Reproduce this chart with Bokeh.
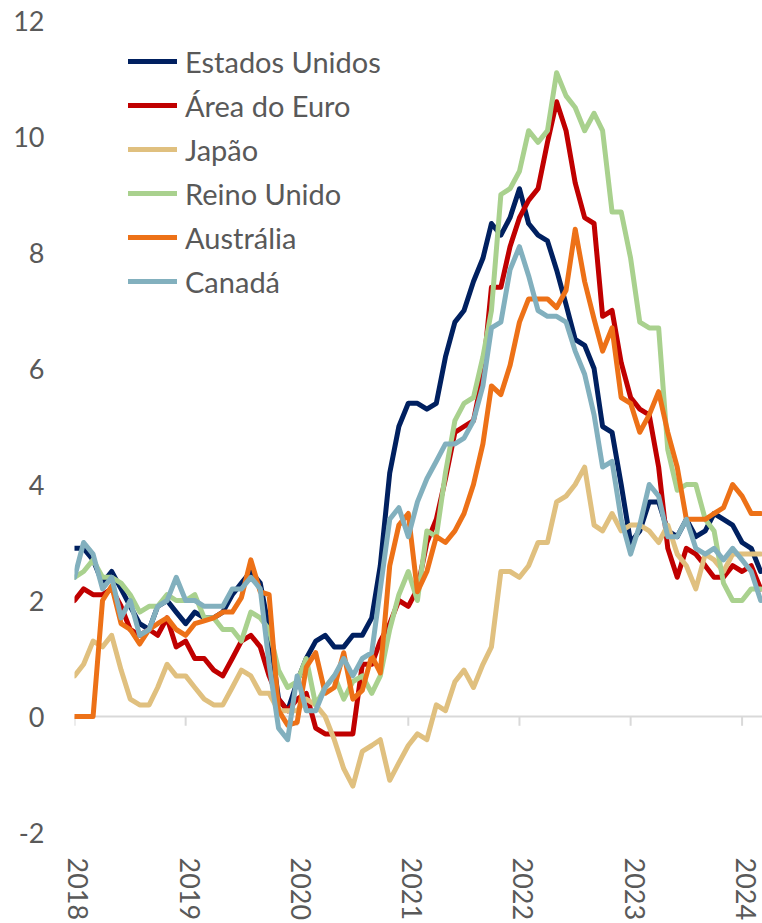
import pandas as pd
from bokeh.plotting import figure
from bokeh.models import Range1d, FixedTicker, Span, DatetimeTickFormatter
from bokeh.embed import file_html
from bokeh.resources import INLINE

# ---------------- data ----------------
start_month = "2018-06"
year_labels = ["2018", "2019", "2020", "2021", "2022", "2023", "2024"]
y_ticks = [-2, 0, 2, 4, 6, 8, 10, 12]
y_tick_labels = ["-2", "0", "2", "4", "6", "8", "10", "12"]

series_names = ["Estados Unidos", "Área do Euro", "Japão", "Reino Unido", "Austrália", "Canadá"]

estados_unidos = [2.9, 2.9, 2.7, 2.3, 2.5, 2.2, 1.9,
                  1.6, 1.5, 1.9, 2.0, 1.8, 1.6, 1.8, 1.7, 1.7, 1.8, 2.1, 2.3,
                  2.5, 2.3, 1.5, 0.3, 0.1, 0.6, 1.0, 1.3, 1.4, 1.2, 1.2, 1.4,
                  1.4, 1.7, 2.6, 4.2, 5.0, 5.4, 5.4, 5.3, 5.4, 6.2, 6.8, 7.0,
                  7.5, 7.9, 8.5, 8.3, 8.6, 9.1, 8.5, 8.3, 8.2, 7.7, 7.1, 6.5,
                  6.4, 6.0, 5.0, 4.9, 4.0, 3.0, 3.2, 3.7, 3.7, 3.2, 3.1, 3.4,
                  3.1, 3.2, 3.5, 3.4, 3.3, 3.0, 2.9, 2.5]

area_euro = [2.0, 2.2, 2.1, 2.1, 2.2, 1.9, 1.5,
             1.4, 1.5, 1.4, 1.7, 1.2, 1.3, 1.0, 1.0, 0.8, 0.7, 1.0, 1.3,
             1.4, 1.2, 0.7, 0.3, 0.1, 0.3, 0.4, -0.2, -0.3, -0.3, -0.3, -0.3,
             0.9, 0.9, 1.3, 1.6, 2.0, 1.9, 2.2, 3.0, 3.4, 4.1, 4.9, 5.0,
             5.1, 5.9, 7.4, 7.4, 8.1, 8.6, 8.9, 9.1, 9.9, 10.6, 10.1, 9.2,
             8.6, 8.5, 6.9, 7.0, 6.1, 5.5, 5.3, 5.2, 4.3, 2.9, 2.4, 2.9,
             2.8, 2.6, 2.4, 2.4, 2.6, 2.5, 2.6, 2.2]

japao = [0.7, 0.9, 1.3, 1.2, 1.4, 0.8, 0.3,
         0.2, 0.2, 0.5, 0.9, 0.7, 0.7, 0.5, 0.3, 0.2, 0.2, 0.5, 0.8,
         0.7, 0.4, 0.4, 0.1, 0.1, 0.1, 0.3, 0.2, 0.0, -0.4, -0.9, -1.2,
         -0.6, -0.5, -0.4, -1.1, -0.8, -0.5, -0.3, -0.4, 0.2, 0.1, 0.6, 0.8,
         0.5, 0.9, 1.2, 2.5, 2.5, 2.4, 2.6, 3.0, 3.0, 3.7, 3.8, 4.0,
         4.3, 3.3, 3.2, 3.5, 3.2, 3.3, 3.3, 3.2, 3.0, 3.3, 2.8, 2.6,
         2.2, 2.8, 2.7, 2.5, 2.8, 2.8, 2.8, 2.8]

reino_unido = [2.4, 2.5, 2.7, 2.4, 2.4, 2.3, 2.1,
               1.8, 1.9, 1.9, 2.1, 2.0, 2.0, 2.1, 1.7, 1.7, 1.5, 1.5, 1.3,
               1.8, 1.7, 1.5, 0.8, 0.5, 0.6, 1.0, 0.2, 0.5, 0.7, 0.3, 0.6,
               0.7, 0.4, 0.7, 1.5, 2.1, 2.5, 2.0, 3.2, 3.1, 4.2, 5.1, 5.4,
               5.5, 6.2, 7.0, 9.0, 9.1, 9.4, 10.1, 9.9, 10.1, 11.1, 10.7, 10.5,
               10.1, 10.4, 10.1, 8.7, 8.7, 7.9, 6.8, 6.7, 6.7, 4.6, 3.9, 4.0,
               4.0, 3.4, 3.2, 2.3, 2.0, 2.0, 2.2, 2.2]

australia = [0.0, 0.0, 0.0, 2.0, 2.25, 1.6, 1.5,
             1.25, 1.5, 1.6, 1.7, 1.5, 1.4, 1.6, 1.65, 1.7, 1.8, 1.8, 2.05,
             2.7, 2.15, 2.1, 0.1, -0.15, -0.1, 0.85, 1.1, 0.4, 0.5, 1.1, 0.3,
             0.45, 1.05, 0.75, 2.6, 3.3, 3.5, 2.15, 2.5, 3.1, 3.0, 3.2, 3.5,
             4.0, 4.7, 5.7, 5.55, 6.05, 6.8, 7.2, 7.2, 7.2, 7.05, 7.35, 8.4,
             7.5, 6.85, 6.3, 6.7, 5.5, 5.4, 4.9, 5.2, 5.6, 4.9, 4.3, 3.4,
             3.4, 3.4, 3.5, 3.6, 4.0, 3.8, 3.5, 3.5]

canada = [2.4, 3.0, 2.8, 2.2, 2.4, 1.7, 2.0,
          1.4, 1.5, 1.9, 2.0, 2.4, 2.0, 2.0, 1.9, 1.9, 1.9, 2.2, 2.2,
          2.4, 2.2, 0.9, -0.2, -0.4, 0.7, 0.1, 0.1, 0.5, 0.7, 1.0, 0.7,
          1.0, 1.1, 2.2, 3.4, 3.6, 3.1, 3.7, 4.1, 4.4, 4.7, 4.7, 4.8,
          5.1, 5.7, 6.7, 6.8, 7.7, 8.1, 7.6, 7.0, 6.9, 6.9, 6.8, 6.3,
          5.9, 5.2, 4.3, 4.4, 3.4, 2.8, 3.3, 4.0, 3.8, 3.1, 3.1, 3.4,
          2.9, 2.8, 2.9, 2.7, 2.9, 2.7, 2.5, 2.0]

series_values = [estados_unidos, area_euro, japao, reino_unido, australia, canada]
series_colors = ["#002060", "#C00000", "#E0C07F", "#A9D18E", "#ED7117", "#82B0BE"]

# ---------------- styling ----------------
FONT = "Lato"
TEXT_COLOR = "#595959"
AXIS_COLOR = "#D9D9D9"
RIGHT_PAD = pd.Timedelta(days=6)        # small space after last point
LABEL_SHIFT = pd.Timedelta(days=13)     # rotated year labels sit a little right of their tick

dates = pd.date_range(start_month, periods=len(estados_unidos), freq="MS")
tick_dates = dates[::12]
label_ms = [float((d + LABEL_SHIFT).value) / 1e6 for d in tick_dates]

p = figure(width=762, height=923,
           x_axis_type="datetime",
           x_range=Range1d(dates[0], dates[-1] + RIGHT_PAD),
           y_range=Range1d(-2, 12),
           output_backend="svg", toolbar_location=None,
           min_border_left=74, min_border_right=0, min_border_top=20,
           min_border_bottom=10)
p.outline_line_color = None
p.grid.visible = False
p.background_fill_color = "white"
p.border_fill_color = "white"

# zero line with year tick marks (category axis crossing at 0)
p.add_layout(Span(location=0, dimension="width", line_color=AXIS_COLOR,
                  line_width=2, level="underlay"))
tick_len = 0.16
p.segment(x0=list(tick_dates), y0=[0] * len(tick_dates),
          x1=list(tick_dates), y1=[-tick_len] * len(tick_dates),
          line_color=AXIS_COLOR, line_width=2, level="underlay")

for name, vals, col in zip(series_names, series_values, series_colors):
    p.line(list(dates), vals, line_color=col, line_width=5,
           line_join="round", line_cap="round", legend_label=name)

# x axis (year labels only, at bottom)
xa = p.xaxis[0]
xa.ticker = FixedTicker(ticks=label_ms)
xa.formatter = DatetimeTickFormatter(days="%Y", months="%Y", years="%Y")
xa.major_label_overrides = {t: lab for t, lab in zip(label_ms, year_labels)}
xa.major_label_orientation = "vertical"
xa.axis_line_color = None
xa.major_tick_line_color = None
xa.minor_tick_line_color = None
xa.major_tick_out = 0
xa.major_tick_in = 0
xa.major_label_standoff = 25
xa.major_label_text_font = FONT
xa.major_label_text_font_size = "27px"
xa.major_label_text_color = TEXT_COLOR

# y axis
ya = p.yaxis[0]
ya.ticker = FixedTicker(ticks=y_ticks)
ya.major_label_overrides = {t: lab for t, lab in zip(y_ticks, y_tick_labels)}
ya.axis_line_color = None
ya.major_tick_line_color = None
ya.minor_tick_line_color = None
ya.major_tick_out = 0
ya.major_tick_in = 0
ya.major_label_standoff = 30
ya.major_label_text_font = FONT
ya.major_label_text_font_size = "27px"
ya.major_label_text_color = TEXT_COLOR

# legend
lg = p.legend[0]
lg.location = (54, 533)
lg.border_line_color = None
lg.background_fill_alpha = 0
lg.padding = 0
lg.margin = 0
lg.spacing = 8
lg.glyph_width = 49
lg.glyph_height = 36
lg.label_height = 36
lg.label_standoff = 8
lg.label_text_font = FONT
lg.label_text_font_size = "29px"
lg.label_text_color = TEXT_COLOR

open("out.html", "w").write(file_html(p, INLINE))
